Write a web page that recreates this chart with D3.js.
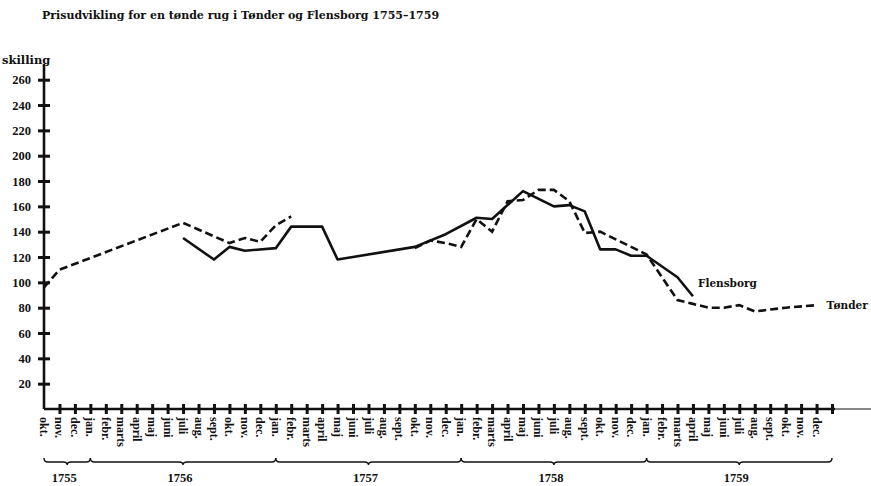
<!DOCTYPE html>
<html>
<head>
<meta charset="utf-8">
<script src="https://cdn.jsdelivr.net/npm/d3@7"></script>
<style>
    body { margin: 0; background: #fff; }
    svg text { font-family: "Liberation Serif", "DejaVu Serif", serif; font-weight: bold; fill: #111; }
    svg text.wide { font-family: "DejaVu Serif", serif; }
</style>
</head>
<body>
<svg id="chart" width="871" height="486"></svg>
<script>

// month labels along the x axis (okt. 1755 -> dec. 1759)
const firstMonths = ["okt.", "nov.", "dec."];
const yearMonths = ["jan.", "febr.", "marts", "april", "maj", "juni", "juli", "aug.", "sept.", "okt.", "nov.", "dec."];
const months = firstMonths.concat(yearMonths, yearMonths, yearMonths, yearMonths);

// years under the braces, with the month index each brace starts and ends at
const years = ["1755", "1756", "1757", "1758", "1759"];
const yearStart = [0, 3, 15, 27, 39];
const yearEnd = [3, 15, 27, 39, 51];

const yTicks = [20, 40, 60, 80, 100, 120, 140, 160, 180, 200, 220, 240, 260];

// [month index, price in skilling]; null = gap in the series
const tonder = [
    [0, 96], [1, 110], [9, 147], [12, 131], [13, 135], [14, 132], [15, 145], [16, 152],
    [20, null],
    [24, 127], [25, 133], [26, 131], [27, 128], [28, 150], [29, 140], [30, 164], [31, 165],
    [32, 173], [33, 173], [34, 164], [35, 139], [36, 140], [39, 122], [41, 86], [42, 83],
    [43, 80], [44, 80], [45, 82], [46, 77], [48, 80], [50, 82]
];

const flensborg = [
    [9, 135], [11, 118], [12, 128], [13, 125], [15, 127], [16, 144], [18, 144], [19, 118],
    [24, 128], [26, 138], [28, 151], [29, 150], [31, 172], [33, 160], [34, 161], [35, 156],
    [36, 126], [37, 126], [38, 121], [39, 121], [41, 104], [42, 89]
];

class PriceChart {

    constructor(tonderData, flensborgData) {
        this.tonder = tonderData;
        this.flensborg = flensborgData;
        this.svg = d3.select("#chart");

        this.x = d3.scaleLinear().domain([0, 51]).range([44, 832]);
        this.y = d3.scaleLinear().domain([0, 260]).range([409, 79.7]);
    }

    draw() {
        this.drawTitle();
        this.drawAxes();
        this.drawLines();
    }

    drawTitle() {
        this.svg.append("text")
            .classed("wide", true)
            .attr("x", 42).attr("y", 19)
            .style("font-size", "11px")
            .text("Prisudvikling for en tønde rug i Tønder og Flensborg 1755–1759");

        this.svg.append("text")
            .classed("wide", true)
            .attr("x", 2).attr("y", 64)
            .style("font-size", "11.5px")
            .text("skilling");
    }

    drawAxes() {
        let x = this.x, y = this.y;

        //Y axis, ticks as small crosses
        let yAxis = this.svg.append("g")
            .attr("transform", `translate(${x(0)},0)`)
            .call(d3.axisLeft(y).tickValues(yTicks).tickSize(0).tickPadding(13));
        yAxis.select(".domain").remove();
        yAxis.selectAll(".tick text").style("font-size", "12.5px").attr("font-family", null);
        yAxis.selectAll(".tick line")
            .attr("x1", -6).attr("x2", 6)
            .attr("stroke", "#111").attr("stroke-width", 3);

        this.svg.append("line")
            .attr("x1", x(0)).attr("x2", x(0))
            .attr("y1", y(0)).attr("y2", 64)
            .attr("stroke", "#111").attr("stroke-width", 2.6);

        //X axis
        let xAxis = this.svg.append("g")
            .attr("transform", `translate(0,${y(0)})`)
            .call(d3.axisBottom(x).tickValues(d3.range(1, 52)).tickSize(0).tickFormat(""));
        xAxis.select(".domain").remove();
        xAxis.selectAll(".tick line")
            .attr("y1", -5).attr("y2", 5)
            .attr("stroke", "#111").attr("stroke-width", 3);

        this.svg.append("line")
            .attr("x1", x(0)).attr("x2", x(51) + 3)
            .attr("y1", y(0)).attr("y2", y(0))
            .attr("stroke", "#111").attr("stroke-width", 2.6);
        this.svg.append("line")
            .attr("x1", x(51)).attr("x2", 871)
            .attr("y1", y(0)).attr("y2", y(0))
            .attr("stroke", "#111").attr("stroke-width", 1.2);

        //Month labels, turned to read downwards
        this.svg.append("g").selectAll("text")
            .data(months)
            .join("text")
            .attr("transform", (d, i) => `translate(${x(i)},${y(0) + 8}) rotate(90)`)
            .attr("dy", "0.33em")
            .style("font-size", "12px")
            .text(d => d);

        //Year braces + labels
        let by = 462;
        let braces = this.svg.append("g");
        years.forEach((yr, k) => {
            let x0 = x(yearStart[k]), x1 = x(yearEnd[k]), m = (x0 + x1) / 2;
            let p = `M${x0},${by - 4} Q${x0},${by} ${x0 + 4},${by} L${m - 4},${by} Q${m},${by} ${m},${by + 3}`
                + ` Q${m},${by} ${m + 4},${by} L${x1 - 4},${by} Q${x1},${by} ${x1},${by - 4}`;
            braces.append("path")
                .attr("d", p)
                .attr("fill", "none")
                .attr("stroke", "#111")
                .attr("stroke-width", 1.4);
            braces.append("text")
                .attr("x", m - 3).attr("y", 482)
                .attr("text-anchor", "middle")
                .style("font-size", "12.5px")
                .text(yr);
        });
    }

    drawLines() {
        let x = this.x, y = this.y;
        let line = d3.line()
            .defined(d => d[1] !== null)
            .x(d => x(d[0]))
            .y(d => y(d[1]));

        this.svg.append("path")
            .datum(this.flensborg)
            .attr("d", line)
            .attr("fill", "none")
            .attr("stroke", "#111")
            .attr("stroke-width", 2.6)
            .attr("stroke-linejoin", "round");

        this.svg.append("path")
            .datum(this.tonder)
            .attr("d", line)
            .attr("fill", "none")
            .attr("stroke", "#111")
            .attr("stroke-width", 2.6)
            .attr("stroke-dasharray", "8,4");

        //Series names at the line ends
        let fl = this.flensborg[this.flensborg.length - 1];
        this.svg.append("text")
            .classed("wide", true)
            .attr("x", x(fl[0]) + 5).attr("y", y(fl[1]) - 9)
            .style("font-size", "10.5px")
            .text("Flensborg");

        let tn = this.tonder[this.tonder.length - 1];
        this.svg.append("text")
            .classed("wide", true)
            .attr("x", x(tn[0]) + 10).attr("y", y(tn[1]) + 4)
            .style("font-size", "10.5px")
            .text("Tønder");
    }
}

let chart = new PriceChart(tonder, flensborg);
chart.draw();

</script>
</body>
</html>
